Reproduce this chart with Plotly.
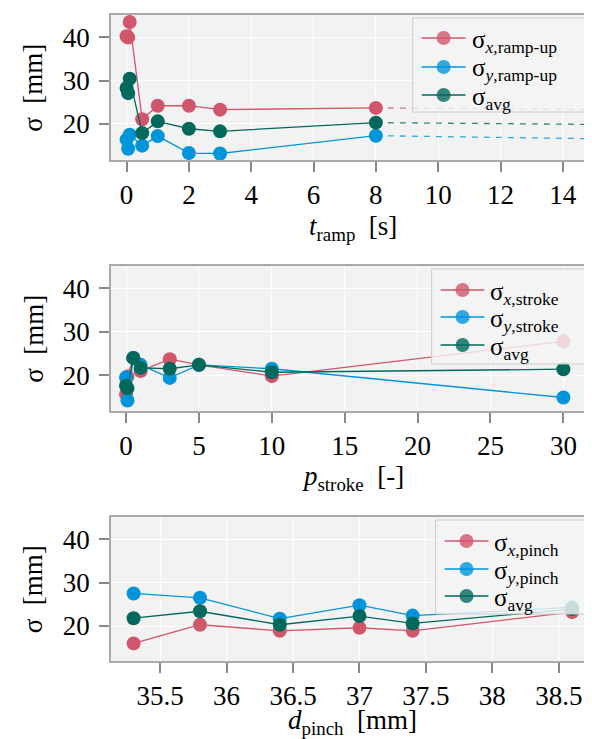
import plotly.graph_objects as go

# ---------------- data ----------------
# Panel 1: ramp-up time
t_ramp = [0.0, 0.05, 0.1, 0.5, 1, 2, 3, 8]
sx_ramp = [40.2, 39.9, 43.5, 21.1, 24.2, 24.2, 23.3, 23.7]
sy_ramp = [16.4, 14.3, 17.5, 15.0, 17.2, 13.3, 13.2, 17.3]
savg_ramp = [28.3, 27.1, 30.4, 17.9, 20.6, 18.9, 18.3, 20.3]
# dashed continuation beyond last measurement
t_ext = [8, 15]
sx_ext = [23.7, 23.3]
sy_ext = [17.3, 16.6]
savg_ext = [20.3, 19.9]

# Panel 2: stroke
p_stroke = [0.0, 0.1, 0.5, 1, 3, 5, 10, 30]
sx_stroke = [15.7, 19.7, 24.0, 21.0, 23.7, 22.4, 19.8, 27.8]
sy_stroke = [19.5, 14.2, 24.0, 22.4, 19.4, 22.4, 21.5, 14.9]
savg_stroke = [17.6, 17.0, 24.0, 21.7, 21.5, 22.4, 20.7, 21.4]

# Panel 3: pinch
d_pinch = [35.3, 35.8, 36.4, 37.0, 37.4, 38.6]
sx_pinch = [16.0, 20.3, 18.9, 19.6, 18.9, 23.2]
sy_pinch = [27.5, 26.5, 21.7, 24.8, 22.4, 24.3]
savg_pinch = [21.8, 23.4, 20.3, 22.3, 20.6, 23.9]

x1_ticks = [0, 2, 4, 6, 8, 10, 12, 14]
x2_ticks = [0, 5, 10, 15, 20, 25, 30]
x3_ticks = [35.5, 36, 36.5, 37, 37.5, 38, 38.5]
x3_ticktext = ["35.5", "36", "36.5", "37", "37.5", "38", "38.5"]
y_ticks = [20, 30, 40]

x_titles = ["<i>t</i><sub>ramp</sub>  [s]", "<i>p</i><sub>stroke</sub>  [-]", "<i>d</i><sub>pinch</sub>  [mm]"]
y_title = "σ  [mm]"
legend_names = [
    ["σ<sub><i>x</i>,ramp-up</sub>", "σ<sub><i>y</i>,ramp-up</sub>", "σ<sub>avg</sub>"],
    ["σ<sub><i>x</i>,stroke</sub>", "σ<sub><i>y</i>,stroke</sub>", "σ<sub>avg</sub>"],
    ["σ<sub><i>x</i>,pinch</sub>", "σ<sub><i>y</i>,pinch</sub>", "σ<sub>avg</sub>"],
]

RED = "#D0566C"
BLUE = "#0095DA"
GREEN = "#00695C"
COLORS = [RED, BLUE, GREEN]
FONT = "Liberation Serif"
FS = 27
LFS = 25

fig = go.Figure()

def add_series(x, y, color, name, xa, ya):
    fig.add_trace(go.Scatter(
        x=x, y=y, mode="lines+markers", name=name, showlegend=False,
        line=dict(color=color, width=1.3),
        marker=dict(color=color, size=14, line=dict(width=0)),
        xaxis=xa, yaxis=ya))

def add_dash(x, y, color, xa, ya):
    fig.add_trace(go.Scatter(
        x=x, y=y, mode="lines", showlegend=False,
        line=dict(color=color, width=1.3, dash="6px,6px"), opacity=0.8,
        xaxis=xa, yaxis=ya))

add_dash(t_ext, sx_ext, RED, "x", "y")
add_dash(t_ext, sy_ext, BLUE, "x", "y")
add_dash(t_ext, savg_ext, GREEN, "x", "y")
add_series(t_ramp, sx_ramp, RED, legend_names[0][0], "x", "y")
add_series(t_ramp, sy_ramp, BLUE, legend_names[0][1], "x", "y")
add_series(t_ramp, savg_ramp, GREEN, legend_names[0][2], "x", "y")

add_series(p_stroke, sx_stroke, RED, legend_names[1][0], "x2", "y2")
add_series(p_stroke, sy_stroke, BLUE, legend_names[1][1], "x2", "y2")
add_series(p_stroke, savg_stroke, GREEN, legend_names[1][2], "x2", "y2")

add_series(d_pinch, sx_pinch, RED, legend_names[2][0], "x3", "y3")
add_series(d_pinch, sy_pinch, BLUE, legend_names[2][1], "x3", "y3")
add_series(d_pinch, savg_pinch, GREEN, legend_names[2][2], "x3", "y3")

axis_common = dict(
    showgrid=True, gridcolor="white", gridwidth=1,
    showline=True, linecolor="#aaaaaa", linewidth=1.5, mirror=True,
    ticks="outside", ticklen=10, tickwidth=1.5, tickcolor="#888888",
    zeroline=False, tickfont=dict(family=FONT, size=FS, color="black"),
)
xax = dict(axis_common)
yax = dict(axis_common, ticklabelstandoff=4)

H = 646.0
W = 485.0
def xp(px):
    return (px - 103) / W
def yp(py):
    return 1 - (py - 7) / H
def dom(top_px, bot_px):
    return [max(0.0, yp(bot_px)), min(1.0, yp(top_px))]

fig.update_layout(
    width=592, height=739,
    margin=dict(l=103, r=4, t=7, b=86),
    paper_bgcolor="white", plot_bgcolor="#f2f2f2",
    font=dict(family=FONT, size=FS, color="black"),
    showlegend=False,
    xaxis=dict(xax, domain=[0, 1], anchor="y", range=[-0.5, 15], tickvals=x1_ticks),
    yaxis=dict(yax, domain=dom(7, 152), anchor="x", range=[11.7, 45.1], tickvals=y_ticks),
    xaxis2=dict(xax, domain=[0, 1], anchor="y2", range=[-1.03, 32.1], tickvals=x2_ticks),
    yaxis2=dict(yax, domain=dom(258, 403), anchor="x2", range=[11.8, 45.1], tickvals=y_ticks),
    xaxis3=dict(xax, domain=[0, 1], anchor="y3", range=[35.13, 38.765], tickvals=x3_ticks,
                ticktext=x3_ticktext),
    yaxis3=dict(yax, domain=dom(509, 653), anchor="x3", range=[11.95, 45.1], tickvals=y_ticks),
)

# axis titles as paper-anchored annotations
xt_centers = [220, 470, 714]
yt_centers = [79.5, 330.5, 581]
for i in range(3):
    fig.add_annotation(text=x_titles[i], xref="paper", yref="paper",
                       x=0.5, y=yp(xt_centers[i]), xanchor="center", yanchor="middle",
                       showarrow=False, font=dict(family=FONT, size=FS, color="black"))
    fig.add_annotation(text=y_title, xref="paper", yref="paper", textangle=-90,
                       x=xp(25), y=yp(yt_centers[i]),
                       xanchor="center", yanchor="middle",
                       showarrow=False, font=dict(family=FONT, size=FS, color="black"))

# legends: box (left, top, bottom) and row centres in pixels
leg_boxes = [(406, 10, 104), (425, 261, 356), (429, 512, 606)]
leg_rows = [[30, 59, 87], [282, 309, 337], [533, 561, 588]]
for b, (left, top, bot) in enumerate(leg_boxes):
    fig.add_shape(type="rect", xref="paper", yref="paper", layer="above",
                  x0=xp(left), x1=xp(588), y0=yp(bot), y1=yp(top),
                  fillcolor="rgba(244,244,244,0.82)", line=dict(color="#cccccc", width=1))
    for r, row in enumerate(leg_rows[b]):
        col = COLORS[r]
        fig.add_shape(type="line", xref="paper", yref="paper", layer="above",
                      x0=xp(left + 9), x1=xp(left + 53), y0=yp(row), y1=yp(row),
                      line=dict(color=col, width=1.3))
        fig.add_shape(type="circle", xref="paper", yref="paper", layer="above",
                      xsizemode="pixel", ysizemode="pixel",
                      xanchor=xp(left + 31), yanchor=yp(row),
                      x0=-7, x1=7, y0=-7, y1=7,
                      fillcolor=col, opacity=0.8, line=dict(width=0))
        fig.add_annotation(text=legend_names[b][r], xref="paper", yref="paper",
                           x=xp(left + 58), y=yp(row + 3), xanchor="left", yanchor="middle",
                           align="left", showarrow=False, borderpad=0,
                           font=dict(family=FONT, size=LFS, color="black"))

fig.write_html("out.html")
